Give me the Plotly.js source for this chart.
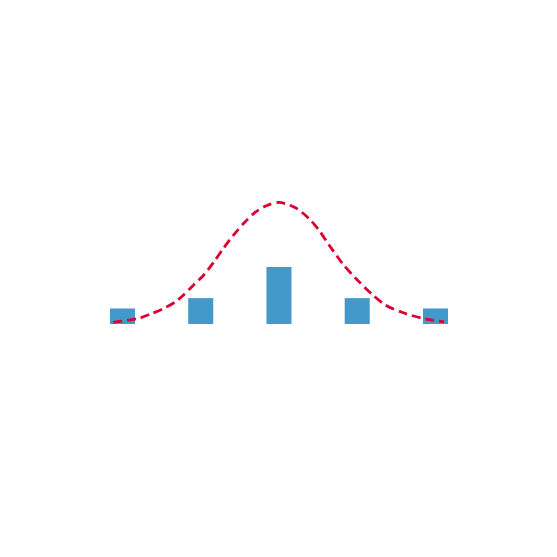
<!DOCTYPE html>
<html>
<head>
<meta charset="utf-8">
<script src="https://cdn.plot.ly/plotly-3.0.1.min.js"></script>
<style>html,body{margin:0;padding:0;background:#fff;}#chart{width:557px;height:557px;}</style>
</head>
<body>
<div id="chart"></div>
<script>
// Bar data
var barX = [-2, -1, 0, 1, 2];
var barY = [3, 5, 11, 5, 3];

// Curve points
var curveX = [-2.12, -1.79, -1.64, -1.47, -1.32, -1.22, -1.09, -0.96, -0.83, -0.71, -0.58, -0.45, -0.32, -0.17, 0.0,
              0.21, 0.38, 0.51, 0.64, 0.81, 0.98, 1.19, 1.36, 1.57, 1.83, 2.11];
var curveY = [0.33, 1.10, 1.93, 3.03, 4.31, 5.60, 7.53, 9.46, 12.03, 14.61, 17.18, 19.44, 21.37, 22.78, 23.49,
              22.45, 20.41, 18.15, 15.25, 11.72, 8.82, 5.73, 3.67, 2.26, 1.10, 0.39];

var data = [
  {
    type: 'bar',
    x: barX,
    y: barY,
    width: 0.32,
    marker: {color: '#4399ca'},
    hoverinfo: 'skip',
    showlegend: false
  },
  {
    type: 'scatter',
    mode: 'lines',
    x: curveX,
    y: curveY,
    line: {color: '#dc0032', width: 2.8, dash: '9px,5px', shape: 'spline', smoothing: 0.8},
    hoverinfo: 'skip',
    showlegend: false
  }
];

var layout = {
  width: 557,
  height: 557,
  margin: {l: 0, r: 0, t: 0, b: 0},
  paper_bgcolor: '#ffffff',
  plot_bgcolor: '#ffffff',
  xaxis: {visible: false, range: [-3.565, 3.553], fixedrange: true},
  yaxis: {visible: false, range: [-44.98, 62.55], fixedrange: true},
  showlegend: false
};

Plotly.newPlot('chart', data, layout, {displayModeBar: false, staticPlot: true});
</script>
</body>
</html>
